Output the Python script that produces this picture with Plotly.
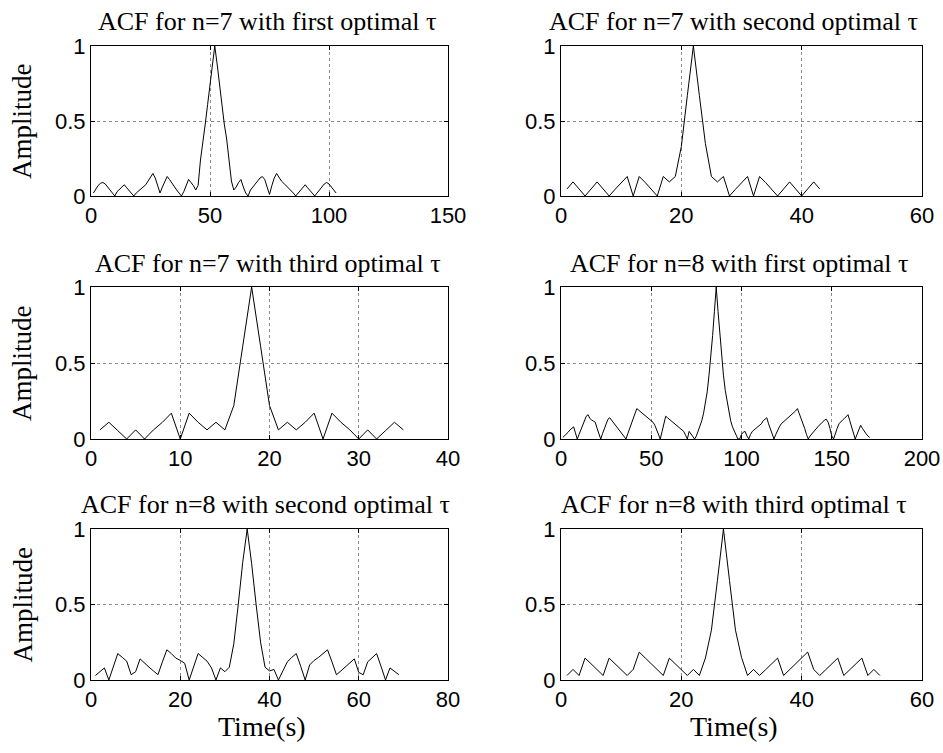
import plotly.graph_objects as go

W, H = 943, 753

# ---------------- data ----------------
acf_n7_first = [
    0.02, 0.05, 0.07, 0.085, 0.09, 0.08, 0.06, 0.04, 0.02, 0.0,
    0.03, 0.045, 0.06, 0.075, 0.055, 0.035, 0.015, 0.0, 0.02, 0.035,
    0.05, 0.065, 0.075, 0.1, 0.125, 0.15, 0.12, 0.07, 0.02, 0.06,
    0.1, 0.13, 0.11, 0.085, 0.065, 0.04, 0.02, 0.0, 0.03, 0.07,
    0.11, 0.09, 0.07, 0.04, 0.07, 0.24, 0.38, 0.48, 0.61, 0.74,
    0.88, 1.0,
    0.88, 0.74, 0.61, 0.48, 0.38, 0.22, 0.1, 0.04, 0.06, 0.09,
    0.11, 0.06, 0.02, 0.0, 0.04, 0.06, 0.08, 0.1, 0.12, 0.13,
    0.11, 0.06, 0.01, 0.07, 0.12, 0.15, 0.12, 0.1, 0.085, 0.07,
    0.05, 0.035, 0.02, 0.0, 0.02, 0.04, 0.06, 0.075, 0.055, 0.035,
    0.015, 0.0, 0.02, 0.04, 0.06, 0.08, 0.09, 0.08, 0.06, 0.04,
    0.02,
]

acf_n7_second = [
    0.047, 0.094, 0.047, 0.0, 0.047, 0.094, 0.047, 0.0, 0.045, 0.09,
    0.13, 0.0, 0.13, 0.09, 0.045, 0.0, 0.13, 0.094, 0.13, 0.33,
    0.67, 1.0, 0.67, 0.35, 0.13, 0.094, 0.13, 0.0, 0.045, 0.09,
    0.13, 0.0, 0.13, 0.09, 0.045, 0.0, 0.047, 0.094, 0.047, 0.0,
    0.047, 0.094, 0.047,
]

acf_n7_third = [
    0.06, 0.11, 0.055, 0.0, 0.06, 0.0, 0.06, 0.11, 0.17, 0.0,
    0.17, 0.11, 0.06, 0.11, 0.06, 0.22, 0.61, 1.0, 0.61, 0.22,
    0.06, 0.11, 0.06, 0.11, 0.17, 0.0, 0.17, 0.11, 0.06, 0.0,
    0.06, 0.0, 0.055, 0.11, 0.06,
]

acf_n8_first = [
    0.01, 0.02, 0.03, 0.045, 0.06, 0.07, 0.08, 0.04, 0.0, 0.03,
    0.06, 0.09, 0.12, 0.15, 0.16, 0.135, 0.125, 0.12, 0.11, 0.07,
    0.035, 0.0, 0.035, 0.07, 0.1, 0.13, 0.14, 0.125, 0.11, 0.095,
    0.08, 0.065, 0.05, 0.035, 0.018, 0.0, 0.035, 0.07, 0.1, 0.13,
    0.17, 0.2, 0.19, 0.18, 0.17, 0.16, 0.15, 0.14, 0.13, 0.12,
    0.11, 0.09, 0.06, 0.03, 0.0, 0.05, 0.1, 0.15, 0.14, 0.13,
    0.12, 0.11, 0.1, 0.09, 0.08, 0.07, 0.06, 0.05, 0.025, 0.0,
    0.05, 0.035, 0.02, 0.0, 0.02, 0.05, 0.08, 0.12, 0.17, 0.24,
    0.31, 0.42, 0.54, 0.68, 0.84, 1.0,
    0.84, 0.68, 0.54, 0.42, 0.32, 0.25, 0.18, 0.12, 0.08, 0.05,
    0.02, 0.0, 0.0, 0.03, 0.045, 0.05, 0.02, 0.0, 0.03, 0.05,
    0.06, 0.07, 0.08, 0.09, 0.1, 0.12, 0.13, 0.14, 0.1, 0.07,
    0.03, 0.0, 0.03, 0.06, 0.08, 0.1, 0.11, 0.12, 0.13, 0.14,
    0.15, 0.16, 0.17, 0.185, 0.2, 0.17, 0.13, 0.1, 0.07, 0.03,
    0.0, 0.02, 0.035, 0.05, 0.065, 0.08, 0.09, 0.1, 0.115, 0.125,
    0.13, 0.11, 0.07, 0.02, 0.0, 0.04, 0.07, 0.1, 0.115, 0.125,
    0.135, 0.15, 0.16, 0.12, 0.08, 0.04, 0.0, 0.03, 0.06, 0.09,
    0.07, 0.05, 0.035, 0.02, 0.01,
]

acf_n8_second = [
    0.03, 0.055, 0.08, 0.0, 0.09, 0.175, 0.15, 0.125, 0.035, 0.055,
    0.14, 0.11, 0.085, 0.06, 0.035, 0.12, 0.2, 0.175, 0.145, 0.13,
    0.11, 0.0, 0.09, 0.175, 0.15, 0.125, 0.08, 0.0, 0.08, 0.055,
    0.085, 0.24, 0.5, 0.78, 1.0,
    0.77, 0.5, 0.25, 0.085, 0.06, 0.07, 0.0, 0.06, 0.12, 0.15,
    0.175, 0.09, 0.0, 0.1, 0.13, 0.15, 0.175, 0.2, 0.12, 0.035,
    0.06, 0.085, 0.11, 0.14, 0.05, 0.035, 0.12, 0.15, 0.175, 0.09,
    0.0, 0.08, 0.055, 0.035,
]

acf_n8_third = [
    0.03, 0.07, 0.03, 0.145, 0.107, 0.068, 0.03, 0.145, 0.107, 0.068,
    0.03, 0.07, 0.185, 0.146, 0.108, 0.069, 0.03, 0.145, 0.107, 0.068,
    0.03, 0.07, 0.03, 0.145, 0.33, 0.66, 1.0, 0.66, 0.33, 0.15,
    0.03, 0.07, 0.03, 0.068, 0.107, 0.145, 0.03, 0.069, 0.108, 0.146,
    0.185, 0.07, 0.03, 0.068, 0.107, 0.145, 0.03, 0.068, 0.107, 0.145,
    0.03, 0.07, 0.03,
]

titles = [
    "ACF for n=7 with first optimal \u03c4",
    "ACF for n=7 with second optimal \u03c4",
    "ACF for n=7 with third optimal \u03c4",
    "ACF for n=8 with first optimal \u03c4",
    "ACF for n=8 with second optimal \u03c4",
    "ACF for n=8 with third optimal \u03c4",
]
series = [acf_n7_first, acf_n7_second, acf_n7_third,
          acf_n8_first, acf_n8_second, acf_n8_third]
x_ticks = [
    [0, 50, 100, 150],
    [0, 20, 40, 60],
    [0, 10, 20, 30, 40],
    [0, 50, 100, 150, 200],
    [0, 20, 40, 60, 80],
    [0, 20, 40, 60],
]
y_ticks = [0, 0.5, 1]
y_tick_text = ["0", "0.5", "1"]
y_label = "Amplitude"
x_label = "Time(s)"

# ---------------- layout geometry (pixels) ----------------
col_px = [(91, 448), (561, 922)]
row_px = [(46, 196), (287, 439), (529, 680)]
title_cx = [267, 733, 268, 739, 265, 734]
title_cy = [22, 263, 505]

SANS = "Liberation Sans, Arial, Helvetica, sans-serif"
SERIF = "Liberation Serif, Times New Roman, serif"

fig = go.Figure()
layout = dict(
    template="none",
    width=W, height=H, autosize=False,
    margin=dict(l=0, r=0, t=0, b=0, pad=0),
    paper_bgcolor="white", plot_bgcolor="white",
    showlegend=False,
)
annotations = []

for i, ys in enumerate(series):
    r, c = i // 2, i % 2
    n = i + 1
    xs = list(range(1, len(ys) + 1))
    xa = "x" if n == 1 else f"x{n}"
    ya = "y" if n == 1 else f"y{n}"
    fig.add_trace(go.Scatter(x=xs, y=ys, mode="lines",
                             line=dict(color="black", width=1),
                             xaxis=xa, yaxis=ya, hoverinfo="skip"))
    x0, x1 = col_px[c]
    t, b = row_px[r]
    common = dict(
        showline=True, linecolor="black", linewidth=1, mirror="ticks",
        ticks="inside", ticklen=4, tickcolor="black", tickwidth=1,
        showgrid=True, gridcolor="#8c8c8c", griddash="dot", gridwidth=1,
        zeroline=False, tickfont=dict(family=SANS, size=22, color="black"),
        fixedrange=True, automargin=False,
    )
    layout[f"xaxis{'' if n == 1 else n}"] = dict(
        common, domain=[x0 / W, x1 / W], anchor=ya,
        range=[0, x_ticks[i][-1]], tickvals=x_ticks[i],
        ticktext=[str(v) for v in x_ticks[i]],
    )
    layout[f"yaxis{'' if n == 1 else n}"] = dict(
        common, domain=[1 - b / H, 1 - t / H], anchor=xa,
        range=[0, 1], tickvals=y_ticks, ticktext=y_tick_text,
    )
    annotations.append(dict(
        text=titles[i], x=title_cx[i] / W, y=1 - title_cy[r] / H,
        xref="paper", yref="paper", xanchor="center", yanchor="middle",
        showarrow=False, font=dict(family=SERIF, size=26, color="black"),
    ))
    if c == 0:
        annotations.append(dict(
            text=y_label, x=22 / W, y=1 - ((t + b) / 2) / H,
            xref="paper", yref="paper", xanchor="center", yanchor="middle",
            textangle=-90, showarrow=False,
            font=dict(family=SERIF, size=27, color="black"),
        ))
    if r == 2:
        annotations.append(dict(
            text=x_label, x=((x0 + x1) / 2 - 8) / W, y=1 - 726 / H,
            xref="paper", yref="paper", xanchor="center", yanchor="middle",
            showarrow=False, font=dict(family=SERIF, size=28, color="black"),
        ))

layout["annotations"] = annotations
fig.update_layout(**layout)
fig.write_html("out.html")
